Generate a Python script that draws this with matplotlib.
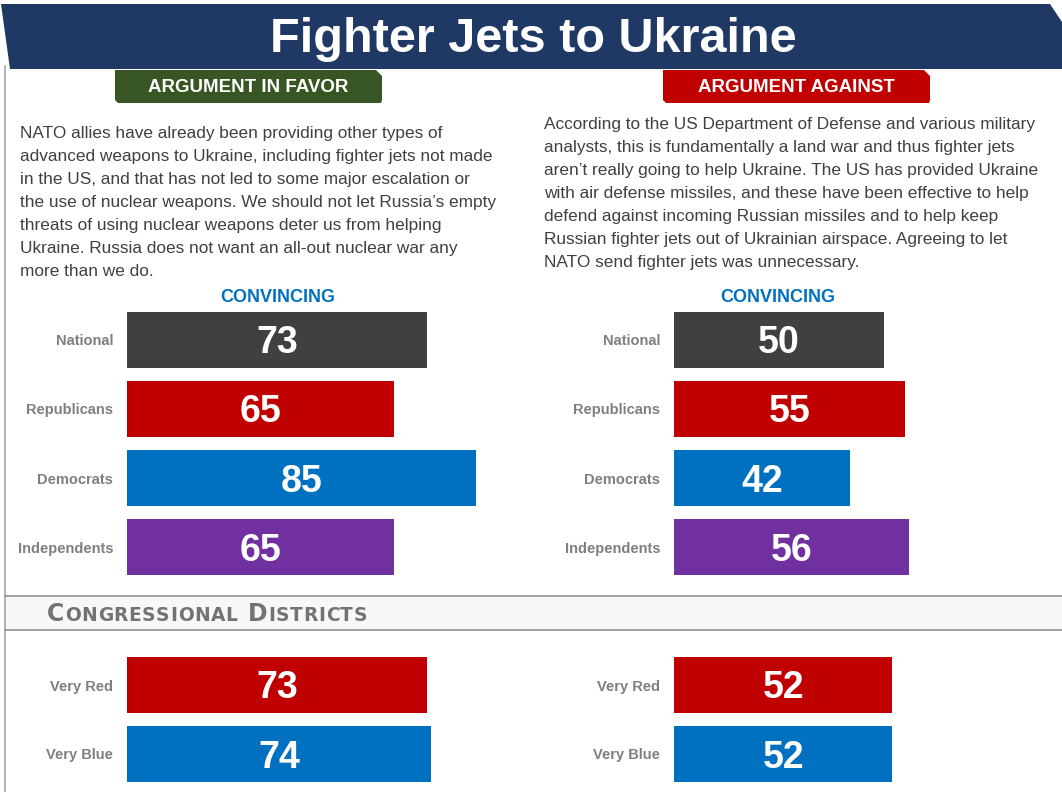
import matplotlib
matplotlib.use("Agg")
import matplotlib.pyplot as plt
from matplotlib.patches import Polygon, Rectangle

W, H = 1062, 792

title = "Fighter Jets to Ukraine"
favor_header = "ARGUMENT IN FAVOR"
against_header = "ARGUMENT AGAINST"
favor_text = [
    "NATO allies have already been providing other types of",
    "advanced weapons to Ukraine, including fighter jets not made",
    "in the US, and that has not led to some major escalation or",
    "the use of nuclear weapons. We should not let Russia\u2019s empty",
    "threats of using nuclear weapons deter us from helping",
    "Ukraine. Russia does not want an all-out nuclear war any",
    "more than we do.",
]
against_text = [
    "According to the US Department of Defense and various military",
    "analysts, this is fundamentally a land war and thus fighter jets",
    "aren\u2019t really going to help Ukraine. The US has provided Ukraine",
    "with air defense missiles, and these have been effective to help",
    "defend against incoming Russian missiles and to help keep",
    "Russian fighter jets out of Ukrainian airspace. Agreeing to let",
    "NATO send fighter jets was unnecessary.",
]
subhead = "CONVINCING"
section_title = "Congressional Districts"

groups = ["National", "Republicans", "Democrats", "Independents"]
favor_vals = [73, 65, 85, 65]
against_vals = [50, 55, 42, 56]
group_colors = ["#404040", "#C00000", "#0070C0", "#7030A0"]

district_labels = ["Very Red", "Very Blue"]
favor_district_vals = [73, 74]
against_district_vals = [52, 52]
district_colors = ["#C00000", "#0070C0"]

SANS = ["Liberation Sans", "DejaVu Sans"]
plt.rcParams["font.family"] = SANS

fig = plt.figure(figsize=(W / 100, H / 100), dpi=100)
fig.patch.set_facecolor("white")

ax0 = fig.add_axes([0, 0, 1, 1])
ax0.set_xlim(0, W)
ax0.set_ylim(H, 0)
ax0.axis("off")

# frame line
ax0.plot([5, 5], [66, 792], color="#A6A6A6", lw=1.2)

# title bar
ax0.add_patch(Polygon([(1, 4), (1050, 4), (1062, 22), (1062, 69), (10, 69)],
                      closed=True, facecolor="#1F3864", edgecolor="none"))
ax0.text(533, 39, title, ha="center", va="center", color="white",
         fontsize=35, fontweight="bold")

# argument headers
def header(x0, x1, color, label):
    ax0.add_patch(Polygon([(x0, 70), (x1 - 6, 70), (x1, 76), (x1, 100), (x1 - 1, 103),
                           (x0 + 3, 103), (x0, 100)],
                          closed=True, facecolor=color, edgecolor="none"))
    ax0.text((x0 + x1) / 2, 88, label, ha="center", va="center", color="white",
             fontsize=13.5, fontweight="bold")

header(115, 382, "#375623", favor_header)
header(663, 930, "#C00000", against_header)

# body text
for i, line in enumerate(favor_text):
    ax0.text(20, 138 + 23 * i, line, ha="left", va="baseline", color="#404040",
             fontsize=12.4)
for i, line in enumerate(against_text):
    ax0.text(544, 129 + 23 * i, line, ha="left", va="baseline", color="#404040",
             fontsize=12.4)

ax0.text(278, 297, subhead, ha="center", va="center", color="#0070C0",
         fontsize=13, fontweight="bold")
ax0.text(778, 297, subhead, ha="center", va="center", color="#0070C0",
         fontsize=13, fontweight="bold")

# congressional districts band
ax0.add_patch(Rectangle((5, 596), W - 5, 34, facecolor="#F8F8F8", edgecolor="none"))
ax0.plot([5, W], [596, 596], color="#999999", lw=1.3)
ax0.plot([5, W], [630, 630], color="#999999", lw=1.3)

# small-caps title drawn letter by letter
fig.canvas.draw()
renderer = fig.canvas.get_renderer()
inv = ax0.transData.inverted()
x = 47
for word_i, word in enumerate(section_title.split()):
    if word_i > 0:
        x += 10
    for j, ch in enumerate(word):
        big = j == 0
        t = ax0.text(x, 621, ch.upper(), ha="left", va="baseline", color="#737373",
                     fontsize=17 if big else 13.4, fontweight="bold",
                     family=["DejaVu Sans"])
        bb = t.get_window_extent(renderer=renderer)
        x = inv.transform((bb.x1, bb.y0))[0] + 0.6


def bar_panel(x0, scale, ytop, ybot, labels, values, colors):
    n = len(values)
    ax = fig.add_axes([x0 / W, 1 - ybot / H, scale * 100 / W, (ybot - ytop) / H])
    ax.patch.set_alpha(0)
    pos = list(range(n))
    ax.barh(pos, values, height=0.81, color=colors)
    ax.set_xlim(0, 100)
    ax.set_ylim(n - 0.5, -0.5)
    ax.set_yticks(pos)
    ax.set_yticklabels(labels, fontsize=10.5, fontweight="bold", color="#7F7F7F")
    ax.tick_params(axis="y", length=0, pad=10)
    ax.set_xticks([])
    for sp in ax.spines.values():
        sp.set_visible(False)
    px = (ybot - ytop) / n  # pixels per category
    for i, v in enumerate(values):
        ax.text(v / 2, i + 13.5 / px, str(v), ha="center", va="baseline", color="white",
                fontsize=27, fontweight="bold")
    return ax


bar_panel(127, 4.11, 305, 582, groups, favor_vals, group_colors)
bar_panel(674, 4.20, 305, 582, groups, against_vals, group_colors)
bar_panel(127, 4.11, 650.5, 788.5, district_labels, favor_district_vals, district_colors)
bar_panel(674, 4.20, 650.5, 788.5, district_labels, against_district_vals, district_colors)

fig.savefig("out.png", dpi=100, facecolor="white")
